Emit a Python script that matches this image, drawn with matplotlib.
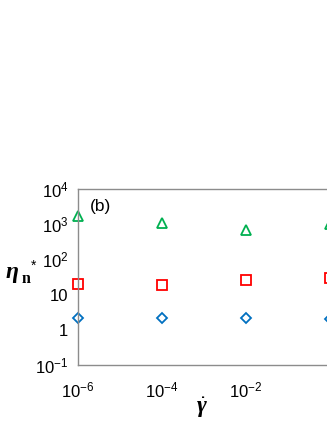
import matplotlib
matplotlib.use("Agg")
import matplotlib.pyplot as plt

plt.rcParams['mathtext.fontset'] = 'custom'
plt.rcParams['mathtext.rm'] = 'Liberation Sans'
plt.rcParams['mathtext.it'] = 'Liberation Serif:italic:bold'
plt.rcParams['mathtext.bf'] = 'Liberation Serif:bold'
plt.rcParams['font.family'] = ['Liberation Sans', 'DejaVu Sans']

shear_rate = [1e-6, 1e-4, 1e-2, 1e0]
eta_green = [1700, 1100, 680, 1000]
eta_red = [20, 19, 26, 29]
eta_blue = [2.2, 2.2, 2.2, 2.0]

xticks = [1e-6, 1e-4, 1e-2, 1e0]
xtick_labels = [r'$\mathrm{10^{-6}}$', r'$\mathrm{10^{-4}}$', r'$\mathrm{10^{-2}}$', '1']
yticks = [1e-1, 1e0, 1e1, 1e2, 1e3, 1e4]
ytick_labels = [r'$\mathrm{10^{-1}}$', '1', '10', r'$\mathrm{10^{2}}$', r'$\mathrm{10^{3}}$', r'$\mathrm{10^{4}}$']

W, H = 327, 423
fig = plt.figure(figsize=(W/100, H/100), dpi=100)
left = 78 / W
bottom = (H - 365) / H
height = 176 / H
width = 42 * 8 / W
ax = fig.add_axes([left, bottom, width, height])

ax.plot(shear_rate, eta_green, linestyle='none', marker='^', markersize=7,
        markerfacecolor='none', markeredgecolor='#00b050', markeredgewidth=1.3, clip_on=False)
ax.plot(shear_rate, eta_red, linestyle='none', marker='s', markersize=7,
        markerfacecolor='none', markeredgecolor='#ff0000', markeredgewidth=1.3, clip_on=False)
ax.plot(shear_rate, eta_blue, linestyle='none', marker='D', markersize=5,
        markerfacecolor='none', markeredgecolor='#0070c0', markeredgewidth=1.3, clip_on=False)

ax.set_xscale('log')
ax.set_yscale('log')
ax.set_xlim(1e-6, 1e2)
ax.set_ylim(1e-1, 1e4)
ax.set_xticks(xticks)
ax.set_xticklabels(xtick_labels, fontsize=12)
ax.set_yticks(yticks)
ax.set_yticklabels(ytick_labels, fontsize=12)
ax.minorticks_off()
ax.tick_params(axis='both', length=0)
ax.tick_params(axis='x', pad=11)
ax.tick_params(axis='y', pad=7)
for s in ax.spines.values():
    s.set_color('#8c8c8c')
    s.set_linewidth(1.0)

fig.text(90 / W, 1 - 207 / H, '(b)', fontsize=12.5, va='center', ha='left')

fig.text(6 / W, 1 - 278 / H, 'η', family='Liberation Serif', weight='bold', style='italic',
         fontsize=17, va='baseline', ha='left')
fig.text(22 / W, 1 - 283 / H, 'n', family='Liberation Serif', weight='bold',
         fontsize=11.5, va='baseline', ha='left')
fig.text(34 / W, 1 - 266 / H, '*', family='Liberation Sans',
         fontsize=10, va='center', ha='center')

fig.text(202 / W, 1 - 413 / H, r'$\dot{\mathit{\gamma}}$', fontsize=17, va='baseline', ha='center')

fig.savefig('out.png', dpi=100)
